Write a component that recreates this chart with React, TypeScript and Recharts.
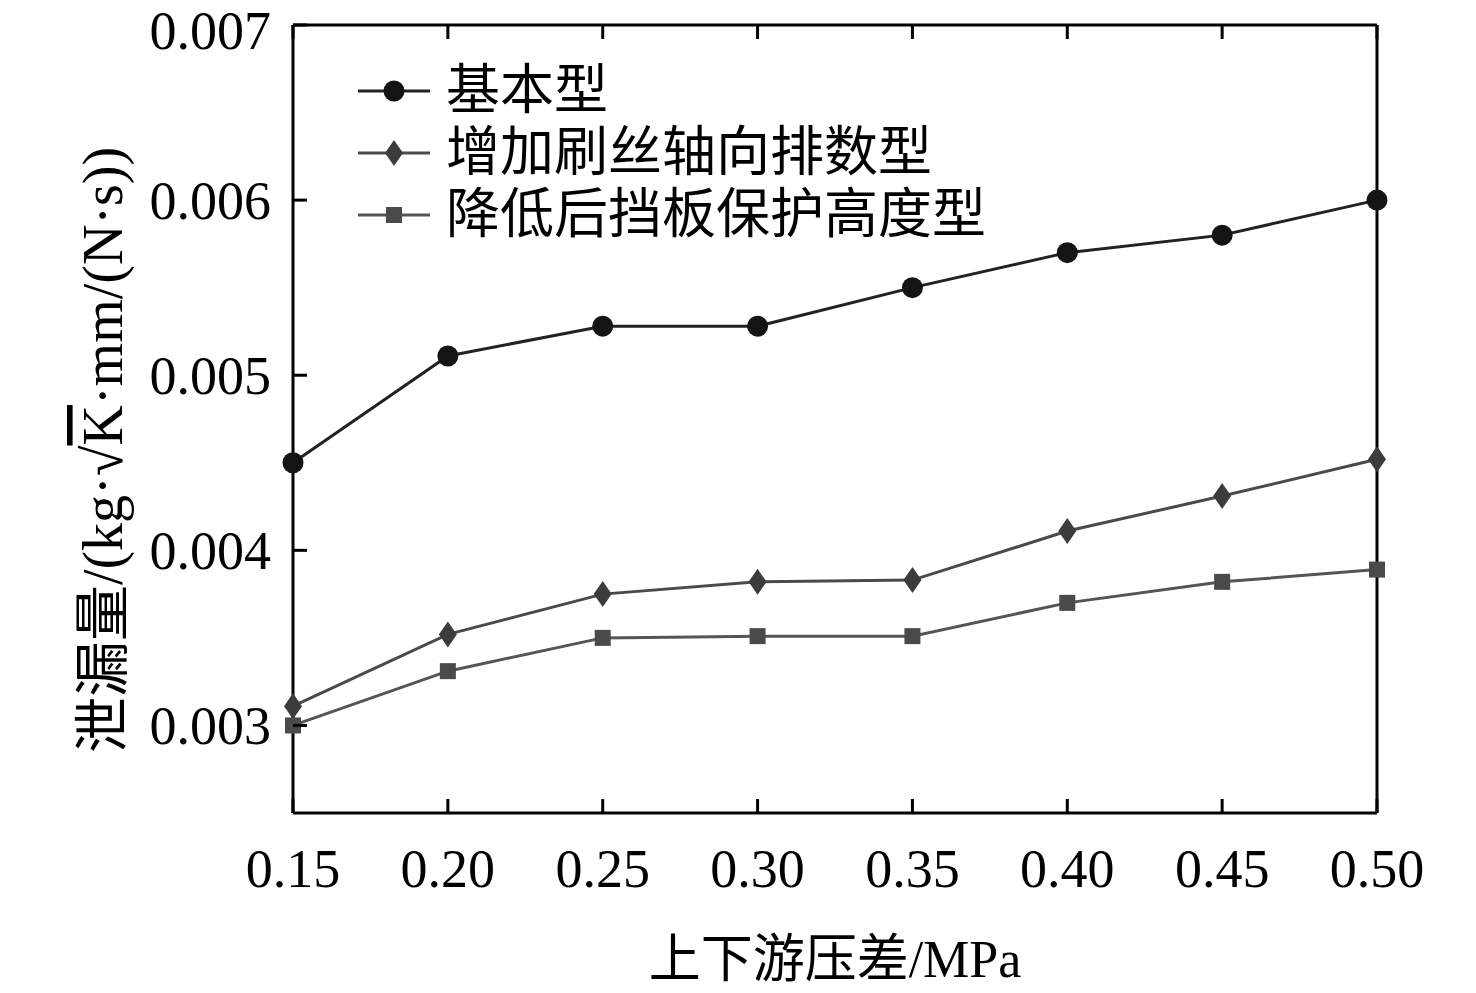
import { LineChart, Line, XAxis, YAxis, Legend } from "recharts";

const pressure = [0.15, 0.2, 0.25, 0.3, 0.35, 0.4, 0.45, 0.5];
const basic = [0.0045, 0.00511, 0.00528, 0.00528, 0.0055, 0.0057, 0.0058, 0.006];
const moreRows = [0.00311, 0.00352, 0.00375, 0.00382, 0.00383, 0.00411, 0.00431, 0.00452];
const lowerPlate = [0.003, 0.00331, 0.0035, 0.00351, 0.00351, 0.0037, 0.00382, 0.00389];
const seriesNames = ["基本型", "增加刷丝轴向排数型", "降低后挡板保护高度型"];
const xTicks = [0.15, 0.2, 0.25, 0.3, 0.35, 0.4, 0.45, 0.5];
const yTicks = [0.003, 0.004, 0.005, 0.006, 0.007];

const data = pressure.map((p, i) => ({ p, basic: basic[i], rows: moreRows[i], plate: lowerPlate[i] }));

const FONT = '"Liberation Serif", "Noto Sans CJK SC", serif';
const TICK = 14;

function Marker({ kind, cx, cy, color }: any) {
  if (kind === "circle") return <circle cx={cx} cy={cy} r={10.5} fill={color} />;
  if (kind === "diamond")
    return <polygon points={`${cx},${cy - 13} ${cx + 9},${cy} ${cx},${cy + 13} ${cx - 9},${cy}`} fill={color} />;
  return <rect x={cx - 8} y={cy - 8} width={16} height={16} fill={color} />;
}

const SERIES = [
  { key: "basic", name: seriesNames[0], kind: "circle", color: "#141414", line: "#222" },
  { key: "rows", name: seriesNames[1], kind: "diamond", color: "#3c3c3c", line: "#4a4a4a" },
  { key: "plate", name: seriesNames[2], kind: "square", color: "#4a4a4a", line: "#555" },
];

function BottomTick({ x, y, payload }: any) {
  return (
    <g>
      <line x1={x} y1={y} x2={x} y2={y - TICK} stroke="#000" strokeWidth={3} />
      <text x={x} y={y + 74} textAnchor="middle" fontFamily={FONT} fontSize={54} fill="#000">
        {payload.value.toFixed(2)}
      </text>
    </g>
  );
}

function TopTick({ x, y }: any) {
  return <line x1={x} y1={y} x2={x} y2={y + TICK} stroke="#000" strokeWidth={3} />;
}

function LeftTick({ x, y, payload }: any) {
  // keep the top label inside the picture
  const ty = Math.max(y + 19, 49);
  return (
    <g>
      <line x1={x} y1={y} x2={x + TICK} y2={y} stroke="#000" strokeWidth={3} />
      <text x={x - 22} y={ty} textAnchor="end" fontFamily={FONT} fontSize={54} fill="#000">
        {payload.value.toFixed(3)}
      </text>
    </g>
  );
}

function RightTick({ x, y }: any) {
  return <line x1={x} y1={y} x2={x - TICK} y2={y} stroke="#000" strokeWidth={3} />;
}

function LegendBox() {
  return (
    <div style={{ fontFamily: FONT, fontSize: 54, lineHeight: "62px", color: "#000" }}>
      {SERIES.map((s) => (
        <div key={s.key} style={{ display: "flex", alignItems: "center", height: 62 }}>
          <svg width={80} height={40} style={{ marginRight: 10 }}>
            <line x1={2} y1={20} x2={74} y2={20} stroke={s.line} strokeWidth={3} />
            <Marker kind={s.kind} cx={38} cy={20} color={s.color} />
          </svg>
          <span>{s.name}</span>
        </div>
      ))}
    </div>
  );
}

function YLabel() {
  return (
    <text
      transform="translate(122,450) rotate(-90)"
      textAnchor="middle"
      fontFamily={FONT}
      fontSize={56}
      fill="#000"
    >
      泄漏量/(kg·√<tspan style={{ textDecoration: "overline" }}>K</tspan>·mm/(N·s))
    </text>
  );
}

export default function App() {
  return (
    <div style={{ position: "absolute", left: 0, top: 0, width: 1476, height: 993, background: "#fff" }}>
      <LineChart width={1476} height={993} data={data} margin={{ top: 0, right: 0, left: 0, bottom: 0 }}>
        <XAxis
          dataKey="p"
          type="number"
          domain={[0.15, 0.5]}
          ticks={xTicks}
          tick={<BottomTick />}
          tickLine={false}
          tickSize={0}
          tickMargin={0}
          axisLine={{ stroke: "#000", strokeWidth: 3 }}
          height={180}
          label={{
            value: "上下游压差/MPa",
            position: "insideBottom",
            offset: 16,
            fontFamily: FONT,
            fontSize: 52,
            fill: "#000",
          }}
        />
        <XAxis
          xAxisId="top"
          orientation="top"
          dataKey="p"
          type="number"
          domain={[0.15, 0.5]}
          ticks={xTicks}
          tick={<TopTick />}
          tickLine={false}
          tickSize={0}
          tickMargin={0}
          axisLine={{ stroke: "#000", strokeWidth: 3 }}
          height={25}
        />
        <YAxis
          type="number"
          domain={[0.0025, 0.007]}
          ticks={yTicks}
          tick={<LeftTick />}
          tickLine={false}
          tickSize={0}
          tickMargin={0}
          axisLine={{ stroke: "#000", strokeWidth: 3 }}
          width={293}
          label={<YLabel />}
        />
        <YAxis
          yAxisId="right"
          orientation="right"
          type="number"
          domain={[0.0025, 0.007]}
          ticks={yTicks}
          tick={<RightTick />}
          tickLine={false}
          tickSize={0}
          tickMargin={0}
          axisLine={{ stroke: "#000", strokeWidth: 3 }}
          width={99}
        />
        <Legend
          layout="vertical"
          align="center"
          verticalAlign="middle"
          content={<LegendBox />}
          wrapperStyle={{ position: "absolute", left: 356, top: 60, width: 700 }}
        />
        {SERIES.map((s) => (
          <Line
            key={s.key}
            dataKey={s.key}
            name={s.name}
            stroke={s.line}
            strokeWidth={3}
            isAnimationActive={false}
            dot={(props: any) => <Marker key={`${s.key}-${props.index}`} kind={s.kind} cx={props.cx} cy={props.cy} color={s.color} />}
            activeDot={false}
          />
        ))}
      </LineChart>
    </div>
  );
}
